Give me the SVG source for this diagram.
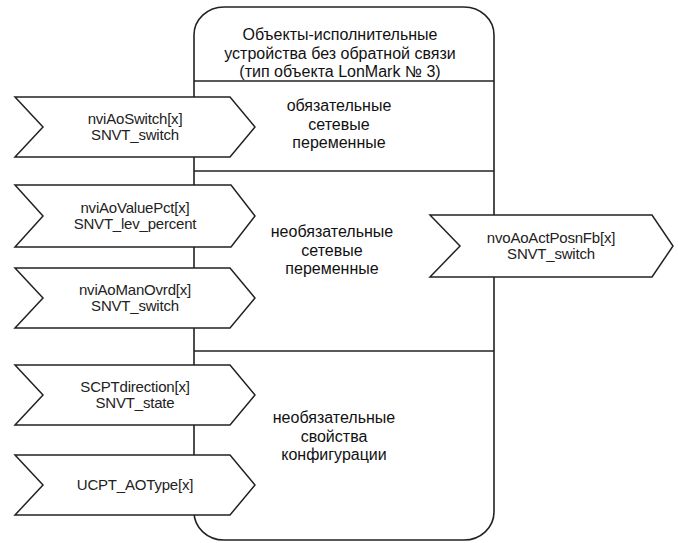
<svg xmlns="http://www.w3.org/2000/svg" width="678" height="543" viewBox="0 0 678 543">
<style>
.frame{fill:#fff;stroke:#222;stroke-width:1.6}
.div{stroke:#222;stroke-width:1.6;fill:none}
.pent{fill:#fff;stroke:#222;stroke-width:1.5;stroke-linejoin:miter}
.lbl{font-family:"Liberation Sans",Arial,sans-serif;font-size:15px;fill:#222;text-anchor:middle;letter-spacing:-0.2px}
.sec{font-family:"Liberation Sans",Arial,sans-serif;font-size:16px;fill:#111;text-anchor:middle}
</style>
<rect width="678" height="543" fill="#fff"/>
<g id="object">
<rect class="frame" x="194" y="7" width="300" height="533" rx="30" ry="28"/>
<text class="sec" x="340" y="40">Объекты-исполнительные</text>
<text class="sec" x="340" y="59">устройства без обратной связи</text>
<text class="sec" x="340" y="77">(тип объекта LonMark № 3)</text>
</g>
<g id="dividers">
<line class="div" x1="194" y1="81" x2="494" y2="81"/>
<line class="div" x1="194" y1="171" x2="494" y2="171"/>
<line class="div" x1="194" y1="351" x2="494" y2="351"/>
</g>
<g id="section-mandatory">
<text class="sec" x="339" y="111">обязательные</text>
<text class="sec" x="339" y="130">сетевые</text>
<text class="sec" x="339" y="148">переменные</text>
</g>
<g id="section-optional-nv">
<text class="sec" x="332" y="237">необязательные</text>
<text class="sec" x="332" y="256">сетевые</text>
<text class="sec" x="332" y="274">переменные</text>
</g>
<g id="section-optional-cp">
<text class="sec" x="334" y="423">необязательные</text>
<text class="sec" x="334" y="442">свойства</text>
<text class="sec" x="334" y="460">конфигурации</text>
</g>
<g id="nviAoSwitch">
<polygon class="pent" points="15,97 230,97 255,127 230,157 15,157 43,127"/>
<text class="lbl" x="135" y="124">nviAoSwitch[x]</text>
<text class="lbl" x="135" y="140">SNVT_switch</text>
</g>
<g id="nviAoValuePct">
<polygon class="pent" points="15,185 231,185 255,216 231,247 15,247 43,216"/>
<text class="lbl" x="135" y="213">nviAoValuePct[x]</text>
<text class="lbl" x="135" y="229">SNVT_lev_percent</text>
</g>
<g id="nviAoManOvrd">
<polygon class="pent" points="15,268 230,268 255,298 230,328 15,328 43,298"/>
<text class="lbl" x="135" y="295">nviAoManOvrd[x]</text>
<text class="lbl" x="135" y="311">SNVT_switch</text>
</g>
<g id="SCPTdirection">
<polygon class="pent" points="15,365 230,365 255,395 230,425 15,425 43,395"/>
<text class="lbl" x="135" y="392">SCPTdirection[x]</text>
<text class="lbl" x="135" y="408">SNVT_state</text>
</g>
<g id="UCPT_AOType">
<polygon class="pent" points="15,455 230,455 255,485 230,515 15,515 43,485"/>
<text class="lbl" x="135" y="490">UCPT_AOType[x]</text>
</g>
<g id="nvoAoActPosnFb">
<polygon class="pent" points="430,215 652,215 673,246 652,277 430,277 460,246"/>
<text class="lbl" x="551" y="243">nvoAoActPosnFb[x]</text>
<text class="lbl" x="551" y="259">SNVT_switch</text>
</g>
<g id="connectors"></g>
</svg>
